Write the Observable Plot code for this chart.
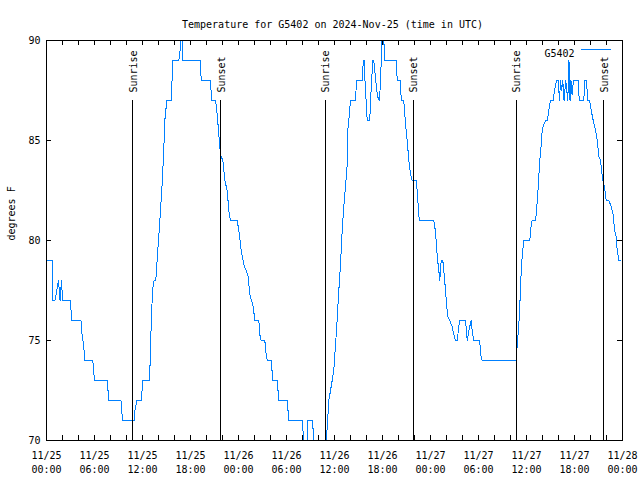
<!DOCTYPE html>
<html>
<head>
<meta charset="utf-8">
<script src="https://cdn.jsdelivr.net/npm/d3@7"></script>
<script src="https://cdn.jsdelivr.net/npm/@observablehq/plot@0.6"></script>
<style>
  html, body { margin: 0; padding: 0; background: #fff; }
  #chart svg { display: block; }
</style>
</head>
<body>
<div id="chart"></div>
<script>
// ---- Text ----
const titleText = "Temperature for G5402 on 2024-Nov-25 (time in UTC)";
const seriesName = "G5402";
const yLabelText = "degrees F";

// ---- Time base (UTC) ----
const startUTC = Date.UTC(2024, 10, 25, 0, 0);

// ---- Series: hours since 11/25 00:00 UTC, temperature in degrees F ----
const hours = [
  0.00, 0.75, 0.81, 1.06, 1.50, 1.69, 1.88, 2.00, 3.00, 3.13,
  4.31, 4.44, 4.56, 4.69, 4.81, 5.79, 6.00, 7.59, 7.79, 9.31,
  9.50, 11.00, 11.06, 11.29, 11.84, 11.94, 12.04, 12.84, 12.96, 13.04,
  13.13, 13.25, 13.44, 13.66, 13.91, 14.09, 14.25, 14.41, 14.54, 14.66,
  14.79, 15.04, 15.59, 15.69, 15.75, 16.54, 16.69, 16.81, 16.94, 17.06,
  19.21, 19.34, 20.50, 20.63, 21.13, 21.34, 21.54, 21.75, 22.04, 22.29,
  22.59, 22.79, 23.00, 23.84, 24.04, 24.34, 24.66, 24.96, 25.21, 25.41,
  25.84, 26.04, 26.54, 26.66, 26.84, 27.29, 27.46, 27.59, 28.09, 28.29,
  28.84, 29.04, 30.09, 30.29, 32.04, 32.13, 32.56, 32.66, 33.29, 33.41,
  34.69, 35.09, 35.29, 35.71, 35.91, 36.25, 36.54, 36.75, 36.96, 37.16,
  37.38, 37.59, 37.66, 37.79, 38.00, 38.63, 38.75, 39.50, 39.59, 39.71,
  39.81, 40.09, 40.41, 40.50, 40.79, 40.91, 41.16, 41.38, 41.63, 41.75,
  41.94, 42.16, 42.31, 43.71, 43.84, 44.25, 44.34, 44.66, 44.88, 45.09,
  45.29, 45.50, 45.71, 46.21, 46.34, 46.54, 46.66, 48.41, 48.54, 48.71,
  48.84, 49.04, 49.16, 49.34, 49.54, 49.66, 49.88, 50.00, 50.16, 50.41,
  50.71, 50.91, 51.13, 51.34, 51.54, 51.66, 52.38, 52.59, 52.79, 53.09,
  53.21, 53.41, 54.16, 54.25, 54.46, 58.71, 58.84, 59.04, 59.16, 59.34,
  59.46, 59.66, 60.41, 60.59, 60.71, 61.13, 61.25, 61.41, 61.54, 61.66,
  61.84, 61.96, 62.16, 62.38, 62.59, 62.79, 63.00, 63.34, 63.50, 63.75,
  63.96, 64.13, 64.25, 64.38, 64.54, 64.69, 64.91, 65.04, 65.16, 65.31,
  65.44, 65.56, 65.69, 65.88, 66.46, 66.59, 67.16, 67.29, 67.50, 67.66,
  67.88, 68.09, 68.34, 68.63, 68.84, 69.04, 69.25, 69.54, 69.75, 69.96,
  70.29, 70.59, 70.84, 71.00, 71.21, 71.34, 71.54, 71.69
];
const tempF = [
  79, 79, 77, 77, 78, 77, 78, 77, 77, 76,
  76, 75.3, 75, 74.5, 74, 74, 73, 73, 72, 72,
  71, 71, 71.5, 72, 72, 72.5, 73, 73, 73.9, 75.2,
  76.2, 77.5, 78, 78, 79.5, 80.5, 81.5, 82.5, 83.5, 84.5,
  86, 87, 87, 88, 89, 89, 89.5, 90, 90, 89,
  89, 88, 88, 87, 87, 86.3, 85.3, 84.3, 84, 83,
  82.5, 81.5, 81, 81, 80.5, 79.5, 78.8, 78.5, 78.2, 77.3,
  76.7, 76, 76, 75.3, 75, 75, 74.3, 74, 74, 73,
  73, 72, 72, 71, 71, 69, 69, 71, 71, 69,
  69, 70.65, 72, 73, 73.5, 75.5, 77.5, 78.8, 80.5, 81.7,
  82.7, 83.8, 85.5, 86, 87, 87, 88, 88, 89, 89,
  88, 86, 86, 87, 89, 89, 88, 87.2, 87, 88,
  90, 90, 89, 89, 88, 88, 87, 87, 85.8, 85,
  84, 83.3, 83, 83, 82.5, 81.2, 81, 81, 80.7, 80,
  79.2, 78.5, 78, 79, 79, 78.5, 77.5, 76.8, 76.2, 76,
  75.7, 75.3, 75, 75, 75.7, 76, 76, 75, 75.5, 76,
  75.5, 75, 75, 74.3, 74, 74, 74.8, 75.8, 76.7, 78.5,
  79.2, 80, 80, 80.8, 81, 81, 81.5, 82.3, 83.2, 84,
  84.8, 85.5, 85.8, 86, 86, 86.5, 87, 87, 87.5, 88,
  88, 87, 88, 87.5, 88, 87, 88, 87.5, 87, 89,
  87, 88, 87.3, 88, 88, 87, 87, 88, 88, 87,
  87, 86.5, 86, 85.5, 85, 84.2, 84, 83, 82.7, 82,
  82, 81.7, 81.3, 80.5, 80.2, 79.5, 79, 79
];

// ---- Sunrise / sunset markers (hours since start) ----
const eventHours = [10.79, 21.79, 34.84, 45.84, 58.71, 69.66];
const eventNames = ["Sunrise", "Sunset", "Sunrise", "Sunset", "Sunrise", "Sunset"];

// ---- Axes ----
const xDomainHours = [0, 72];
const yDomain = [70, 90];
const yTicks = [70, 75, 80, 85, 90];
const xLabelTickHours = [0, 6, 12, 18, 24, 30, 36, 42, 48, 54, 60, 66, 72];
const xMinorTickHours = d3.range(0, 73, 2);

// ---- Build ----
const W = 640, H = 480, mL = 46, mR = 18, mT = 40, mB = 40;
const tickLen = 5;
const toDate = h => new Date(startUTC + h * 3600e3);
const data = hours.map((h, i) => ({ time: toDate(h), temp: tempF[i] }));
const events = eventHours.map((h, i) => ({ time: toDate(h), name: eventNames[i] }));
const xMin = toDate(xDomainHours[0]);
const xMax = toDate(xDomainHours[1]);
const xLabelTicks = xLabelTickHours.map(toDate);
const xMinorTicks = xMinorTickHours.map(toDate);
const fmt = d3.utcFormat("%m/%d\n%H:%M");

// tick lengths expressed in data units (scale spans)
const hoursPerPx = (xDomainHours[1] - xDomainHours[0]) / (W - mL - mR);
const degPerPx = (yDomain[1] - yDomain[0]) / (H - mT - mB);
const xTickSpan = tickLen * hoursPerPx;
const yTickSpan = tickLen * degPerPx;

const lineColor = "#0080ff";
const tickColor = "#000";
const font = "'DejaVu Sans Mono', 'Liberation Mono', monospace";
const hLine = { draw(ctx, l) { ctx.moveTo(0, 0); ctx.lineTo(0, -l); } };

const chart = Plot.plot({
  width: W, height: H,
  marginLeft: mL, marginRight: mR, marginTop: mT, marginBottom: mB,
  style: { fontFamily: font, fontSize: "10px", color: "#000", background: "#fff", overflow: "visible" },
  x: { type: "utc", domain: [xMin, xMax] },
  y: { domain: yDomain },
  marks: [
    // data line
    Plot.line(data, { x: "time", y: "temp", stroke: lineColor, strokeWidth: 1, clip: true, shapeRendering: "crispEdges" }),
    // sunrise/sunset rules and labels
    Plot.ruleX(events, { x: "time", y1: 70, y2: 87, stroke: "#000", strokeWidth: 1, shapeRendering: "crispEdges" }),
    Plot.text(events, { x: "time", y: 87, text: "name", rotate: -90, textAnchor: "start", dy: -8, dx: 1, fill: "#000", fontSize: 10 }),
    // inward ticks: bottom, top, left, right
    Plot.ruleX(xMinorTicks, { x: d => d, y1: yDomain[0], y2: yDomain[0] + yTickSpan, stroke: tickColor, strokeWidth: 1, shapeRendering: "crispEdges" }),
    Plot.ruleX(xMinorTicks, { x: d => d, y1: yDomain[1] - yTickSpan, y2: yDomain[1], stroke: tickColor, strokeWidth: 1, shapeRendering: "crispEdges" }),
    Plot.ruleY(yTicks, { y: d => d, x1: xMin, x2: toDate(xDomainHours[0] + xTickSpan), stroke: tickColor, strokeWidth: 1, shapeRendering: "crispEdges" }),
    Plot.ruleY(yTicks, { y: d => d, x1: toDate(xDomainHours[1] - xTickSpan), x2: xMax, stroke: tickColor, strokeWidth: 1, shapeRendering: "crispEdges" }),
    // tick labels
    Plot.axisX(xLabelTicks, { tickSize: 0, tickPadding: 9, tickFormat: fmt, lineHeight: 1.4, fontSize: 10, label: null }),
    Plot.axisY(yTicks, { tickSize: 0, tickPadding: 6, fontSize: 10, label: null }),
    // frame
    Plot.frame({ stroke: "#000", strokeWidth: 1, shapeRendering: "crispEdges" }),
    // y label
    Plot.text([yLabelText], { frameAnchor: "left", text: d => d, rotate: -90, dx: -35, fontSize: 10, fill: "#000" }),
    // title
    Plot.text([titleText], { frameAnchor: "top", text: d => d, dy: -20, dx: -2, fontSize: 10, fill: "#000" }),
    // legend
    Plot.text([seriesName], { frameAnchor: "top-right", text: d => d, textAnchor: "end", dx: -48, dy: 9, fontSize: 10, fill: "#000" }),
    Plot.vector([seriesName], { frameAnchor: "top-right", dx: -12, dy: 9, length: 29, rotate: -90, anchor: "start", shape: hLine, stroke: lineColor, strokeWidth: 1, shapeRendering: "crispEdges" })
  ]
});
document.getElementById("chart").appendChild(chart);
</script>
</body>
</html>
